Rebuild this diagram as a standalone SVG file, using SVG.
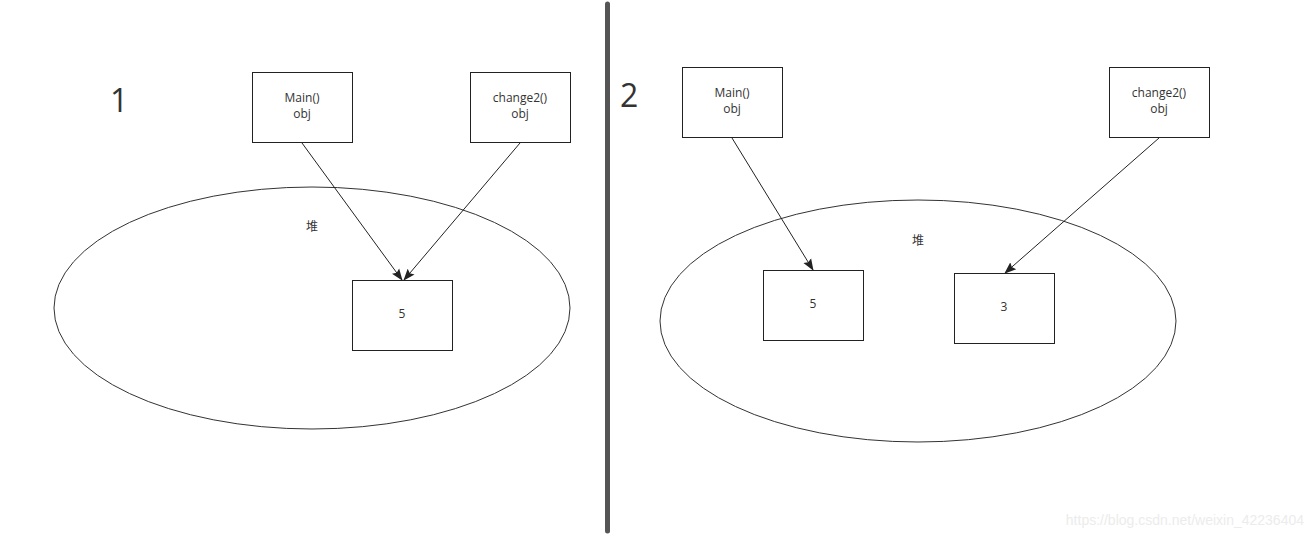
<svg xmlns="http://www.w3.org/2000/svg" width="1313" height="539" viewBox="0 0 1313 539">
<style>
.box{fill:#fff;stroke:#222;stroke-width:1}
.heap{fill:none;stroke:#333;stroke-width:1}
.t{font-family:"Open Sans","Liberation Sans",sans-serif;font-size:12px;fill:#333;text-anchor:middle}
.cjk{font-family:"Noto Sans CJK SC",sans-serif;font-size:12px;fill:#333;text-anchor:middle}
.num{font-family:"Open Sans","Liberation Sans",sans-serif;font-size:32px;fill:#333}
.edge{stroke:#222;stroke-width:1;fill:none;marker-end:url(#ah)}
</style>
<defs>
<marker id="ah" markerWidth="12" markerHeight="10" refX="11" refY="5" orient="auto" markerUnits="userSpaceOnUse">
<path d="M0,0.5 L12,5 L0,9.5 L2,5 Z" fill="#222"/>
</marker>
</defs>
<rect width="1313" height="539" fill="#fff"/>
<line id="divider" x1="607.5" y1="4" x2="607.5" y2="531" stroke="#555" stroke-width="5" stroke-linecap="round"/>
<text class="num" x="110" y="112">1</text>
<text class="num" x="620" y="107">2</text>
<g id="heap1"><ellipse class="heap" cx="312" cy="308" rx="258" ry="121"/><text class="cjk" x="312" y="231">堆</text></g>
<g id="heap2"><ellipse class="heap" cx="918" cy="321" rx="258" ry="121"/><text class="cjk" x="918" y="245">堆</text></g>
<g id="main1"><rect class="box" x="252.5" y="72.5" width="100" height="70"/><text class="t" x="302" y="102">Main()</text><text class="t" x="302" y="118">obj</text></g>
<g id="change1"><rect class="box" x="470.5" y="72.5" width="100" height="70"/><text class="t" x="520" y="102">change2()</text><text class="t" x="520" y="118">obj</text></g>
<g id="val5a"><rect class="box" x="352.5" y="280.5" width="100" height="70"/><text class="t" x="402" y="318">5</text></g>
<g id="main2"><rect class="box" x="682.5" y="67.5" width="100" height="70"/><text class="t" x="732" y="97">Main()</text><text class="t" x="732" y="113">obj</text></g>
<g id="change2"><rect class="box" x="1109.5" y="67.5" width="100" height="70"/><text class="t" x="1159" y="97">change2()</text><text class="t" x="1159" y="113">obj</text></g>
<g id="val5b"><rect class="box" x="763.5" y="270.5" width="100" height="70"/><text class="t" x="813" y="308">5</text></g>
<g id="val3"><rect class="box" x="954.5" y="273.5" width="100" height="70"/><text class="t" x="1004" y="311">3</text></g>
<g id="connectors">
<line class="edge" x1="302" y1="143" x2="402" y2="280"/>
<line class="edge" x1="520" y1="143" x2="404" y2="280"/>
<line class="edge" x1="732" y1="138" x2="813" y2="270"/>
<line class="edge" x1="1159" y1="138" x2="1005" y2="273"/>
</g>
<text x="1304" y="525" font-family="Liberation Sans,sans-serif" font-size="14" fill="#ececec" text-anchor="end">https://blog.csdn.net/weixin_42236404</text>
</svg>
